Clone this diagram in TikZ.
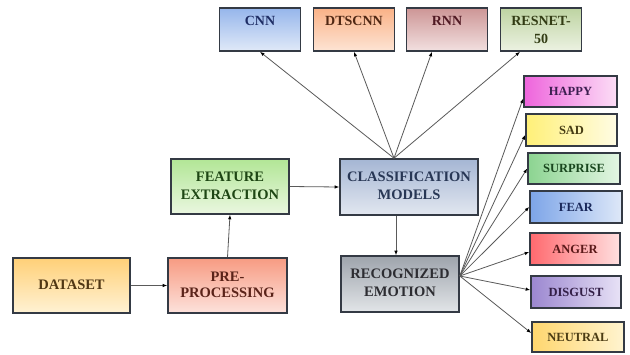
\documentclass[tikz,border=0pt]{standalone}
\usepackage{fontspec}
\setmainfont{Liberation Serif}[BoldFont={Liberation Serif Bold}]
\usetikzlibrary{arrows.meta}
\newcommand\liftup[1]{\raisebox{4pt}{\begin{tabular}{@{}c@{}}#1\end{tabular}}}
\definecolor{boxline}{HTML}{343A44}
\definecolor{arrline}{HTML}{5A5A5A}
% top boxes
\definecolor{cnnA}{RGB}{150,182,235}\definecolor{cnnB}{RGB}{224,233,248}\definecolor{cnnT}{RGB}{30,45,100}
\definecolor{dtsA}{RGB}{250,178,135}\definecolor{dtsB}{RGB}{253,228,212}\definecolor{dtsT}{RGB}{80,40,20}
\definecolor{rnnA}{RGB}{205,150,150}\definecolor{rnnB}{RGB}{242,224,224}\definecolor{rnnT}{RGB}{80,25,35}
\definecolor{resA}{RGB}{190,212,162}\definecolor{resB}{RGB}{236,242,226}\definecolor{resT}{RGB}{50,60,20}
% emotions
\definecolor{hapA}{RGB}{238,100,220}\definecolor{hapB}{RGB}{252,222,246}\definecolor{hapT}{RGB}{60,30,80}
\definecolor{sadA}{RGB}{255,240,120}\definecolor{sadB}{RGB}{255,252,228}\definecolor{sadT}{RGB}{70,60,20}
\definecolor{surA}{RGB}{140,212,145}\definecolor{surB}{RGB}{228,246,228}\definecolor{surT}{RGB}{25,70,30}
\definecolor{feaA}{RGB}{125,165,232}\definecolor{feaB}{RGB}{222,232,248}\definecolor{feaT}{RGB}{25,40,90}
\definecolor{angA}{RGB}{255,105,110}\definecolor{angB}{RGB}{255,224,224}\definecolor{angT}{RGB}{90,25,25}
\definecolor{disA}{RGB}{155,135,208}\definecolor{disB}{RGB}{232,226,246}\definecolor{disT}{RGB}{50,30,70}
\definecolor{neuA}{RGB}{255,214,110}\definecolor{neuB}{RGB}{255,244,208}\definecolor{neuT}{RGB}{75,60,20}
% main
\definecolor{feaxA}{RGB}{178,230,150}\definecolor{feaxB}{RGB}{234,247,224}\definecolor{feaxT}{RGB}{30,70,20}
\definecolor{claA}{RGB}{165,182,212}\definecolor{claB}{RGB}{226,231,240}\definecolor{claT}{RGB}{40,55,85}
\definecolor{recA}{RGB}{158,164,172}\definecolor{recB}{RGB}{226,229,232}\definecolor{recT}{RGB}{45,45,50}
\definecolor{datA}{RGB}{255,208,120}\definecolor{datB}{RGB}{255,242,212}\definecolor{datT}{RGB}{80,55,20}
\definecolor{preA}{RGB}{247,155,130}\definecolor{preB}{RGB}{253,226,220}\definecolor{preT}{RGB}{90,35,25}
\begin{document}
\begin{tikzpicture}[x=1pt,y=-1pt,
  box/.style={draw=boxline, line width=1.6pt, align=center, inner sep=2pt,
    font=\bfseries\fontsize{14.5}{18}\selectfont},
  topbox/.style={box, minimum width=81pt, minimum height=43pt,
    top color=#1A, bottom color=#1B, text=#1T,
    font=\bfseries\fontsize{14}{18}\selectfont},
  emo/.style={box, minimum width=91pt, minimum height=31pt,
    left color=#1A, right color=#1B, text=#1T,
    font=\bfseries\fontsize{12.5}{14}\selectfont},
  bigbox/.style={box, minimum width=118pt, minimum height=55pt,
    top color=#1A, bottom color=#1B, text=#1T},
  arr/.style={draw=arrline, line width=0.8pt,
    -{Latex[length=4.5pt,width=3.5pt,color=black]}}
]
\useasboundingbox (0,0) rectangle (630,354);
\fill[white] (0,0) rectangle (630,354);

% top models
\node[topbox=cnn] (cnn) at (260,29.5) {CNN\\\mbox{}};
\node[topbox=dts] (dtscnn) at (354,29.5) {DTSCNN\\\mbox{}};
\node[topbox=rnn] (rnn) at (447,29.5) {RNN\\\mbox{}};
\node[topbox=res] (resnet) at (541,29.5) {RESNET-\\50};

% emotions
\node[emo=hap, minimum width=93pt] (happy) at (570.5,91.5) {HAPPY};
\node[emo=sad, minimum height=32pt] (sad) at (571.5,130) {SAD};
\node[emo=sur, minimum width=92pt] (surprise) at (574,168.5) {SURPRISE};
\node[emo=fea, minimum width=92pt, minimum height=32pt] (fear) at (576,207) {FEAR};
\node[emo=ang, minimum width=90pt, minimum height=32pt] (anger) at (575,249) {ANGER};
\node[emo=dis, minimum width=90pt, minimum height=32pt] (disgust) at (576,292) {DISGUST};
\node[emo=neu, minimum width=92pt, minimum height=30pt] (neutral) at (578,337) {NEUTRAL};

% main flow
\node[bigbox=feax] (feature) at (230,186.5) {\liftup{FEATURE\\EXTRACTION}};
\node[bigbox=cla, minimum width=138pt, minimum height=56pt] (classif) at (409,187) {\liftup{CLASSIFICATION\\MODELS}};
\node[bigbox=rec, minimum height=56pt] (recog) at (400,284) {\liftup{RECOGNIZED\\EMOTION}};
\node[bigbox=dat, minimum width=117pt] (dataset) at (71.5,285.5) {\liftup{DATASET}};
\node[bigbox=pre, minimum width=119pt] (preproc) at (227.5,285.5) {\liftup{PRE-\\[-2pt]PROCESSING}};

% connectors
\draw[arr] (dataset.east) -- (preproc.west);
\draw[arr] (preproc.north) -- (feature.south);
\draw[arr] (feature.east) -- (classif.west);
\coordinate (cdown) at ([xshift=-13pt]classif.south);
\draw[arr] (cdown) -- (cdown |- recog.north);

\coordinate (ctop) at ([xshift=-15pt]classif.north);
\draw[arr] (ctop) -- (cnn.south);
\draw[arr] (ctop) -- (dtscnn.south);
\draw[arr] (ctop) -- ([xshift=-15pt]rnn.south);
\draw[arr] (ctop) -- ([xshift=-21pt]resnet.south);

\coordinate (rout) at ([yshift=8pt]recog.east);
\draw[arr] (rout) -- ([yshift=-7pt]happy.west);
\draw[arr] (rout) -- ([yshift=-5pt]sad.west);
\draw[arr] (rout) -- (surprise.west);
\draw[arr] (rout) -- (fear.west);
\draw[arr] (rout) -- ([yshift=-3pt]anger.west);
\draw[arr] (rout) -- ([yshift=2pt]disgust.west);
\draw[arr] (rout) -- ([yshift=4pt]neutral.west);
\end{tikzpicture}
\end{document}
